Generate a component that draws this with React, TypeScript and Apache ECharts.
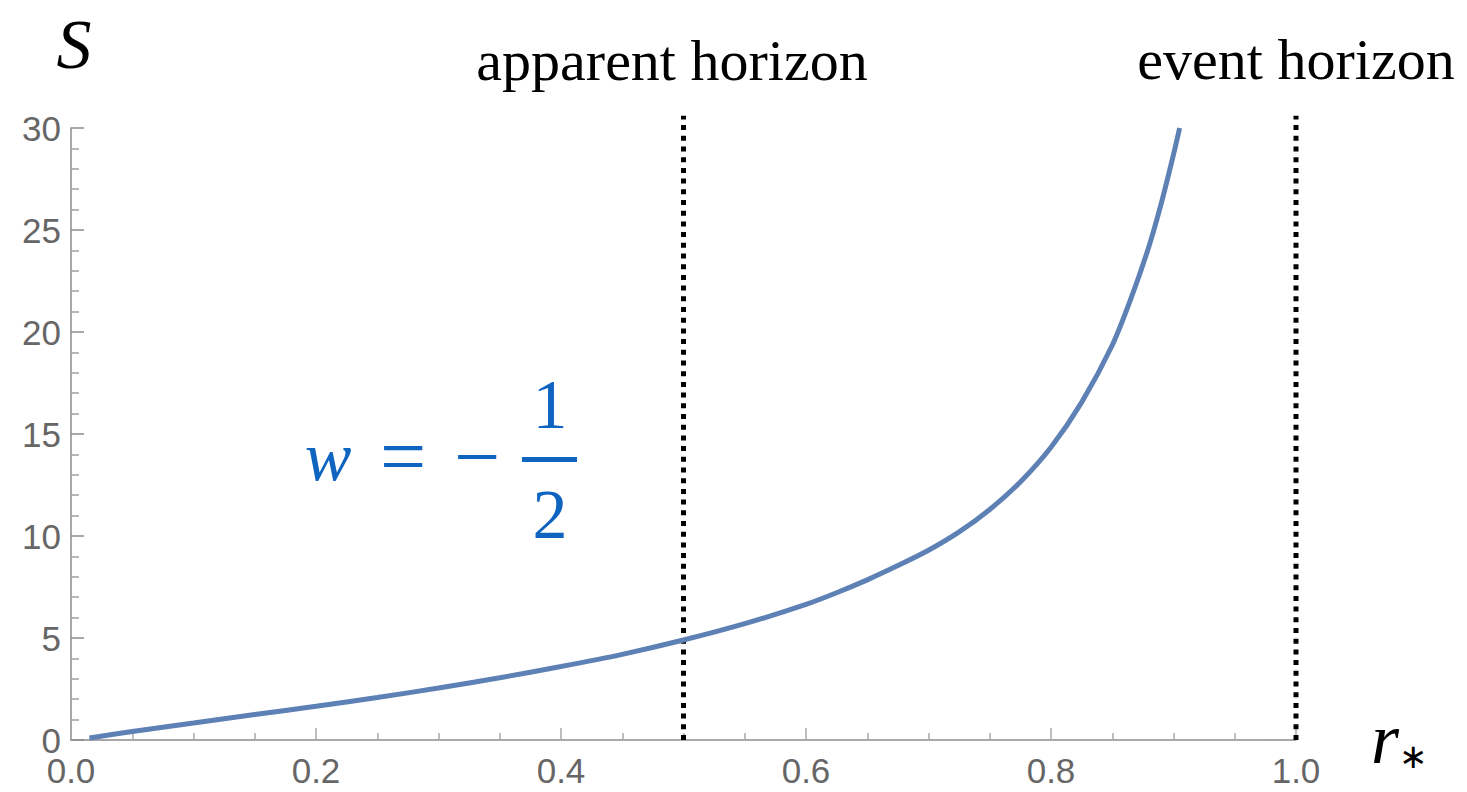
import React, { useEffect, useRef } from "react";
import * as echarts from "echarts";

// S(r*) for w = -1/2
const rValues = [
  0.015, 0.05, 0.1, 0.15, 0.2, 0.25, 0.3, 0.35, 0.4, 0.45, 0.5, 0.55, 0.6,
  0.625, 0.65, 0.675, 0.7, 0.725, 0.75, 0.775, 0.8, 0.825, 0.85, 0.865, 0.88,
  0.89, 0.9, 0.905,
];
const sValues = [
  0.1, 0.42, 0.83, 1.25, 1.65, 2.08, 2.55, 3.05, 3.6, 4.2, 4.9, 5.7, 6.65,
  7.22, 7.85, 8.55, 9.3, 10.2, 11.3, 12.65, 14.35, 16.55, 19.35, 21.6, 24.2,
  26.3, 28.7, 30,
];

// horizon positions (r*) and the height the dotted markers reach (S)
const horizonNames = ["apparent horizon", "event horizon"];
const horizonR = [0.5, 1.0];
const horizonTopS = 30.6;

const xTicks = { min: 0, max: 1, interval: 0.2 };
const yTicks = { min: 0, max: 30, interval: 5 };

const SERIF = "Liberation Serif";
const SANS = "Liberation Sans";
const BLUE = "#0f64c0";

type TextOpts = {
  x: number;
  y: number;
  text: string;
  size: number;
  italic?: boolean;
  color?: string;
};

const label = ({ x, y, text, size, italic, color }: TextOpts) => ({
  type: "text",
  x,
  y,
  style: {
    text,
    fontSize: size,
    fontFamily: SERIF,
    fontStyle: italic ? "italic" : "normal",
    fill: color ?? "#000",
    align: "center",
    verticalAlign: "middle",
  },
});

export default function App() {
  const ref = useRef<HTMLDivElement>(null);

  useEffect(() => {
    if (!ref.current) return;
    const chart = echarts.init(ref.current, undefined, { renderer: "svg" });

    const curve = rValues.map((r, i) => [r, sValues[i]]);
    const horizonSeries = horizonR.map((r, i) => ({
      name: horizonNames[i],
      type: "line" as const,
      data: [
        [r, 0],
        [r, horizonTopS],
      ],
      clip: false,
      showSymbol: false,
      silent: true,
      z: 3,
      lineStyle: { color: "#000", width: 5, type: [5, 5.7], cap: "butt" },
    }));

    const axisLabel = { color: "#666", fontSize: 35, fontFamily: SANS };

    chart.setOption({
      animation: false,
      backgroundColor: "#fff",
      grid: {
        left: 71,
        right: 171,
        top: 128,
        bottom: 52,
        outerBoundsMode: "none",
      },
      xAxis: {
        type: "value",
        min: xTicks.min,
        max: xTicks.max,
        interval: xTicks.interval,
        axisLine: { show: true, lineStyle: { color: "#8c8c8c", width: 1.5 } },
        axisTick: {
          show: true,
          inside: true,
          length: 12,
          lineStyle: { color: "#a8a8a8", width: 1.5 },
        },
        minorTick: {
          show: true,
          splitNumber: 4,
          length: 7,
          lineStyle: { color: "#a8a8a8", width: 1.5 },
        },
        splitLine: { show: false },
        axisLabel: {
          ...axisLabel,
          margin: 15,
          lineHeight: 30,
          formatter: (v: number) => v.toFixed(1),
        },
      },
      yAxis: {
        type: "value",
        min: yTicks.min,
        max: yTicks.max,
        interval: yTicks.interval,
        axisLine: { show: true, lineStyle: { color: "#8c8c8c", width: 1.5 } },
        axisTick: {
          show: true,
          inside: true,
          length: 13,
          lineStyle: { color: "#8c8c8c", width: 1.5 },
        },
        minorTick: {
          show: true,
          splitNumber: 5,
          length: 8,
          lineStyle: { color: "#a0a0a0", width: 1.5 },
        },
        splitLine: { show: false },
        axisLabel: { ...axisLabel, margin: 10, lineHeight: 28 },
      },
      series: [
        {
          name: "S",
          type: "line",
          data: curve,
          smooth: 0.3,
          showSymbol: false,
          silent: true,
          z: 4,
          lineStyle: { color: "#5e81b5", width: 5 },
        },
        ...horizonSeries,
      ],
      graphic: [
        label({ x: 74, y: 44, text: "S", size: 70, italic: true }),
        label({ x: 672, y: 60, text: horizonNames[0], size: 58 }),
        label({ x: 1296, y: 59, text: horizonNames[1], size: 58 }),
        label({ x: 1385, y: 739, text: "r", size: 72, italic: true }),
        label({ x: 1413, y: 756, text: "∗", size: 34 }),
        // w = -1/2 label
        label({ x: 328, y: 456, text: "w", size: 70, italic: true, color: BLUE }),
        label({ x: 403, y: 456, text: "=", size: 82, color: BLUE }),
        label({ x: 477, y: 456, text: "−", size: 82, color: BLUE }),
        {
          type: "rect",
          shape: { x: 522, y: 457, width: 55, height: 5 },
          style: { fill: BLUE },
        },
        label({ x: 550, y: 404, text: "1", size: 70, color: BLUE }),
        label({ x: 550, y: 514, text: "2", size: 70, color: BLUE }),
      ],
    });

    return () => chart.dispose();
  }, []);

  return (
    <div
      ref={ref}
      style={{ position: "fixed", left: 0, top: 0, width: 1467, height: 792 }}
    />
  );
}
